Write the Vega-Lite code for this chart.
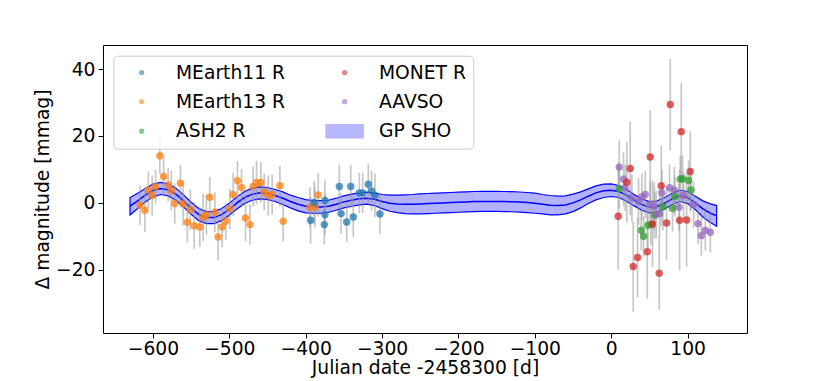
{
  "$schema": "https://vega.github.io/schema/vega-lite/v6.json",
  "width": 644,
  "height": 288,
  "autosize": {"type": "none"},
  "padding": {"left": 103, "top": 45, "right": 83, "bottom": 48},
  "config": {
    "font": "DejaVu Sans",
    "view": {"stroke": "black", "strokeWidth": 1},
    "axis": {
      "grid": false, "domain": false,
      "labelFont": "DejaVu Sans", "labelFontSize": 18.7, "labelColor": "black",
      "titleFont": "DejaVu Sans", "titleFontSize": 18.7, "titleFontWeight": "normal", "titleColor": "black",
      "tickColor": "black", "tickSize": 5, "tickWidth": 1
    }
  },
  "datasets": {
    "gp": [
      {"t": -630, "m": -1.0, "lo": -3.6, "hi": 1.6},
      {"t": -620, "m": 0.6, "lo": -1.7, "hi": 2.9},
      {"t": -610, "m": 2.3, "lo": 0.3, "hi": 4.3},
      {"t": -600, "m": 3.7, "lo": 1.8, "hi": 5.6},
      {"t": -590, "m": 4.3, "lo": 2.5, "hi": 6.1},
      {"t": -580, "m": 3.9, "lo": 2.1, "hi": 5.7},
      {"t": -570, "m": 2.6, "lo": 0.8, "hi": 4.4},
      {"t": -560, "m": 0.6, "lo": -1.2, "hi": 2.4},
      {"t": -550, "m": -1.6, "lo": -3.4, "hi": 0.2},
      {"t": -540, "m": -3.5, "lo": -5.3, "hi": -1.7},
      {"t": -530, "m": -4.4, "lo": -6.2, "hi": -2.6},
      {"t": -520, "m": -4.4, "lo": -6.2, "hi": -2.6},
      {"t": -510, "m": -3.5, "lo": -5.3, "hi": -1.7},
      {"t": -500, "m": -1.9, "lo": -3.7, "hi": -0.1},
      {"t": -490, "m": 0.0, "lo": -1.8, "hi": 1.8},
      {"t": -480, "m": 1.6, "lo": -0.2, "hi": 3.4},
      {"t": -470, "m": 2.6, "lo": 0.8, "hi": 4.4},
      {"t": -460, "m": 3.0, "lo": 1.2, "hi": 4.8},
      {"t": -450, "m": 2.8, "lo": 1.0, "hi": 4.6},
      {"t": -440, "m": 2.2, "lo": 0.4, "hi": 4.0},
      {"t": -430, "m": 1.4, "lo": -0.5, "hi": 3.3},
      {"t": -420, "m": 0.4, "lo": -1.5, "hi": 2.3},
      {"t": -410, "m": -0.4, "lo": -2.4, "hi": 1.6},
      {"t": -400, "m": -1.0, "lo": -3.0, "hi": 1.0},
      {"t": -390, "m": -1.2, "lo": -3.1, "hi": 0.7},
      {"t": -380, "m": -1.2, "lo": -3.1, "hi": 0.7},
      {"t": -370, "m": -1.0, "lo": -2.8, "hi": 0.8},
      {"t": -360, "m": -0.4, "lo": -2.2, "hi": 1.4},
      {"t": -350, "m": 0.3, "lo": -1.5, "hi": 2.1},
      {"t": -340, "m": 0.8, "lo": -1.0, "hi": 2.6},
      {"t": -330, "m": 1.2, "lo": -0.6, "hi": 3.0},
      {"t": -320, "m": 1.4, "lo": -0.4, "hi": 3.2},
      {"t": -310, "m": 1.1, "lo": -0.8, "hi": 3.0},
      {"t": -300, "m": 0.4, "lo": -1.7, "hi": 2.5},
      {"t": -290, "m": -0.1, "lo": -2.5, "hi": 2.3},
      {"t": -280, "m": -0.3, "lo": -2.9, "hi": 2.3},
      {"t": -270, "m": -0.4, "lo": -3.2, "hi": 2.4},
      {"t": -260, "m": -0.4, "lo": -3.3, "hi": 2.5},
      {"t": -250, "m": -0.3, "lo": -3.3, "hi": 2.7},
      {"t": -240, "m": -0.2, "lo": -3.2, "hi": 2.8},
      {"t": -230, "m": -0.1, "lo": -3.1, "hi": 2.9},
      {"t": -220, "m": 0.0, "lo": -3.0, "hi": 3.0},
      {"t": -210, "m": 0.1, "lo": -2.9, "hi": 3.1},
      {"t": -200, "m": 0.2, "lo": -2.8, "hi": 3.2},
      {"t": -190, "m": 0.3, "lo": -2.7, "hi": 3.3},
      {"t": -180, "m": 0.4, "lo": -2.6, "hi": 3.4},
      {"t": -170, "m": 0.45, "lo": -2.55, "hi": 3.45},
      {"t": -160, "m": 0.45, "lo": -2.55, "hi": 3.45},
      {"t": -150, "m": 0.45, "lo": -2.55, "hi": 3.45},
      {"t": -140, "m": 0.4, "lo": -2.6, "hi": 3.4},
      {"t": -130, "m": 0.35, "lo": -2.65, "hi": 3.35},
      {"t": -120, "m": 0.25, "lo": -2.75, "hi": 3.25},
      {"t": -110, "m": 0.1, "lo": -2.9, "hi": 3.1},
      {"t": -100, "m": -0.1, "lo": -3.1, "hi": 2.9},
      {"t": -90, "m": -0.4, "lo": -3.3, "hi": 2.5},
      {"t": -80, "m": -0.7, "lo": -3.6, "hi": 2.2},
      {"t": -70, "m": -0.8, "lo": -3.6, "hi": 2.0},
      {"t": -60, "m": -0.6, "lo": -3.3, "hi": 2.1},
      {"t": -50, "m": 0.0, "lo": -2.6, "hi": 2.6},
      {"t": -40, "m": 0.9, "lo": -1.5, "hi": 3.3},
      {"t": -30, "m": 2.0, "lo": -0.2, "hi": 4.2},
      {"t": -20, "m": 3.0, "lo": 0.9, "hi": 5.1},
      {"t": -10, "m": 3.6, "lo": 1.6, "hi": 5.6},
      {"t": 0, "m": 3.8, "lo": 1.9, "hi": 5.7},
      {"t": 10, "m": 3.4, "lo": 1.6, "hi": 5.2},
      {"t": 20, "m": 2.3, "lo": 0.5, "hi": 4.1},
      {"t": 30, "m": 0.8, "lo": -0.9, "hi": 2.5},
      {"t": 40, "m": -0.5, "lo": -2.2, "hi": 1.2},
      {"t": 50, "m": -1.3, "lo": -3.0, "hi": 0.4},
      {"t": 60, "m": -1.1, "lo": -2.8, "hi": 0.6},
      {"t": 70, "m": -0.1, "lo": -1.8, "hi": 1.6},
      {"t": 80, "m": 1.2, "lo": -0.5, "hi": 2.9},
      {"t": 90, "m": 2.1, "lo": 0.4, "hi": 3.8},
      {"t": 100, "m": 1.6, "lo": -0.2, "hi": 3.4},
      {"t": 110, "m": 0.0, "lo": -2.0, "hi": 2.0},
      {"t": 120, "m": -1.8, "lo": -4.2, "hi": 0.6},
      {"t": 130, "m": -3.1, "lo": -5.9, "hi": -0.3},
      {"t": 138, "m": -3.9, "lo": -7.0, "hi": -0.8}
    ],
    "obs": [
      {"s": "MEarth13 R", "x": -617, "y": -0.7, "e": 6},
      {"s": "MEarth13 R", "x": -610.5, "y": -2.2, "e": 6.5},
      {"s": "MEarth13 R", "x": -606, "y": 3.9, "e": 5.5},
      {"s": "MEarth13 R", "x": -601, "y": 2.2, "e": 6},
      {"s": "MEarth13 R", "x": -596.6, "y": 4.8, "e": 5},
      {"s": "MEarth13 R", "x": -591, "y": 14.1, "e": 5.5},
      {"s": "MEarth13 R", "x": -586, "y": 7.9, "e": 6},
      {"s": "MEarth13 R", "x": -580, "y": 5.4, "e": 5},
      {"s": "MEarth13 R", "x": -576, "y": 3.7, "e": 6},
      {"s": "MEarth13 R", "x": -571.5, "y": -0.2, "e": 6},
      {"s": "MEarth13 R", "x": -564, "y": 5.9, "e": 5.5},
      {"s": "MEarth13 R", "x": -560.5, "y": -0.3, "e": 6.5},
      {"s": "MEarth13 R", "x": -555, "y": -5.8, "e": 6},
      {"s": "MEarth13 R", "x": -551, "y": -2.0, "e": 6},
      {"s": "MEarth13 R", "x": -546, "y": -6.8, "e": 7},
      {"s": "MEarth13 R", "x": -538.7, "y": -7.2, "e": 6},
      {"s": "MEarth13 R", "x": -534.3, "y": -4.3, "e": 7},
      {"s": "MEarth13 R", "x": -530, "y": -3.6, "e": 6},
      {"s": "MEarth13 R", "x": -525.6, "y": 1.7, "e": 6},
      {"s": "MEarth13 R", "x": -519, "y": -2.8, "e": 6},
      {"s": "MEarth13 R", "x": -514.7, "y": -10.2, "e": 7},
      {"s": "MEarth13 R", "x": -509.4, "y": -7.2, "e": 6},
      {"s": "MEarth13 R", "x": -504.6, "y": -5.5, "e": 5.5},
      {"s": "MEarth13 R", "x": -499.3, "y": -1.8, "e": 6},
      {"s": "MEarth13 R", "x": -495, "y": 2.5, "e": 6.5},
      {"s": "MEarth13 R", "x": -489.3, "y": 6.6, "e": 6},
      {"s": "MEarth13 R", "x": -484, "y": 4.6, "e": 5.5},
      {"s": "MEarth13 R", "x": -478.8, "y": -4.5, "e": 7},
      {"s": "MEarth13 R", "x": -473, "y": -6.5, "e": 6},
      {"s": "MEarth13 R", "x": -468.8, "y": 4.9, "e": 6},
      {"s": "MEarth13 R", "x": -464.4, "y": 6.1, "e": 6.5},
      {"s": "MEarth13 R", "x": -458.7, "y": 6.1, "e": 6},
      {"s": "MEarth13 R", "x": -454.4, "y": 3.3, "e": 5.5},
      {"s": "MEarth13 R", "x": -449, "y": 2.2, "e": 6},
      {"s": "MEarth13 R", "x": -443.9, "y": 2.5, "e": 6},
      {"s": "MEarth13 R", "x": -433.8, "y": 5.1, "e": 6},
      {"s": "MEarth13 R", "x": -429.5, "y": -5.5, "e": 6},
      {"s": "MEarth13 R", "x": -394.5, "y": -1.3, "e": 6},
      {"s": "MEarth13 R", "x": -388, "y": -1.3, "e": 6},
      {"s": "MEarth13 R", "x": -383.6, "y": 2.4, "e": 6.5},
      {"s": "MEarth11 R", "x": -393.6, "y": -5.2, "e": 7},
      {"s": "MEarth11 R", "x": -388.8, "y": 0.15, "e": 6.5},
      {"s": "MEarth11 R", "x": -374.8, "y": 0.7, "e": 6},
      {"s": "MEarth11 R", "x": -374.8, "y": -3.5, "e": 6},
      {"s": "MEarth11 R", "x": -375.7, "y": -6.5, "e": 6},
      {"s": "MEarth11 R", "x": -356, "y": 4.9, "e": 6.5},
      {"s": "MEarth11 R", "x": -353.7, "y": -3.2, "e": 6},
      {"s": "MEarth11 R", "x": -346.3, "y": -5.7, "e": 6},
      {"s": "MEarth11 R", "x": -341, "y": 4.9, "e": 6.5},
      {"s": "MEarth11 R", "x": -337.7, "y": -4.2, "e": 6},
      {"s": "MEarth11 R", "x": -329.8, "y": 3.0, "e": 6},
      {"s": "MEarth11 R", "x": -325.4, "y": 3.0, "e": 6},
      {"s": "MEarth11 R", "x": -318, "y": 5.6, "e": 6},
      {"s": "MEarth11 R", "x": -313.7, "y": 3.6, "e": 6},
      {"s": "MEarth11 R", "x": -309.4, "y": 2.3, "e": 6.5},
      {"s": "MEarth11 R", "x": -302.8, "y": -3.3, "e": 6},
      {"s": "ASH2 R", "x": 10.5, "y": 4.2, "e": 6},
      {"s": "ASH2 R", "x": 90.4, "y": 7.1, "e": 7},
      {"s": "ASH2 R", "x": 93.4, "y": 7.2, "e": 7},
      {"s": "ASH2 R", "x": 101.3, "y": 6.7, "e": 6},
      {"s": "ASH2 R", "x": 104.4, "y": 3.9, "e": 6},
      {"s": "ASH2 R", "x": 83.4, "y": 1.9, "e": 6},
      {"s": "ASH2 R", "x": 80.3, "y": -1.6, "e": 7},
      {"s": "ASH2 R", "x": 67.7, "y": -1.2, "e": 7},
      {"s": "ASH2 R", "x": 56.7, "y": -3.6, "e": 7},
      {"s": "ASH2 R", "x": 48.1, "y": -6.7, "e": 7},
      {"s": "ASH2 R", "x": 52, "y": -6.5, "e": 6},
      {"s": "ASH2 R", "x": 39.3, "y": -8.2, "e": 6},
      {"s": "ASH2 R", "x": 42.4, "y": -10.0, "e": 6},
      {"s": "AAVSO", "x": 10.5, "y": 10.7, "e": 8},
      {"s": "AAVSO", "x": 16.1, "y": 7.1, "e": 8},
      {"s": "AAVSO", "x": 18.3, "y": 4.5, "e": 7},
      {"s": "AAVSO", "x": 27.1, "y": 1.5, "e": 7},
      {"s": "AAVSO", "x": 35.8, "y": 0.5, "e": 7},
      {"s": "AAVSO", "x": 40.2, "y": 1.8, "e": 7},
      {"s": "AAVSO", "x": 44.6, "y": 2.5, "e": 7},
      {"s": "AAVSO", "x": 51.1, "y": -0.5, "e": 7},
      {"s": "AAVSO", "x": 56.4, "y": -1.0, "e": 7},
      {"s": "AAVSO", "x": 59, "y": -3.5, "e": 7},
      {"s": "AAVSO", "x": 63.3, "y": -3.2, "e": 7},
      {"s": "AAVSO", "x": 66.4, "y": 3.0, "e": 7},
      {"s": "AAVSO", "x": 76.4, "y": 4.5, "e": 7},
      {"s": "AAVSO", "x": 82.6, "y": 3.8, "e": 7},
      {"s": "AAVSO", "x": 88.7, "y": -1.3, "e": 7},
      {"s": "AAVSO", "x": 94.8, "y": 2.2, "e": 7},
      {"s": "AAVSO", "x": 107.9, "y": -0.5, "e": 7},
      {"s": "AAVSO", "x": 113.7, "y": -6.2, "e": 6},
      {"s": "AAVSO", "x": 118, "y": -9.8, "e": 6},
      {"s": "AAVSO", "x": 123.2, "y": -8.2, "e": 6},
      {"s": "AAVSO", "x": 129.8, "y": -8.8, "e": 6},
      {"s": "MONET R", "x": 77.3, "y": 29.4, "e": 13.7},
      {"s": "MONET R", "x": 91.7, "y": 21.3, "e": 14.5},
      {"s": "MONET R", "x": 51.1, "y": 13.7, "e": 14},
      {"s": "MONET R", "x": 24.9, "y": 10.3, "e": 14},
      {"s": "MONET R", "x": 20.5, "y": 6.2, "e": 12},
      {"s": "MONET R", "x": 103.5, "y": 9.4, "e": 12},
      {"s": "MONET R", "x": 65.5, "y": 5.1, "e": 12},
      {"s": "MONET R", "x": 9.2, "y": -4.0, "e": 16},
      {"s": "MONET R", "x": 54.1, "y": -6.3, "e": 13},
      {"s": "MONET R", "x": 72.5, "y": -6.0, "e": 11},
      {"s": "MONET R", "x": 89.5, "y": -5.2, "e": 15},
      {"s": "MONET R", "x": 98.7, "y": -5.1, "e": 14},
      {"s": "MONET R", "x": 47.2, "y": -14.6, "e": 14},
      {"s": "MONET R", "x": 34.5, "y": -16.3, "e": 12},
      {"s": "MONET R", "x": 28.8, "y": -19.0, "e": 13.5},
      {"s": "MONET R", "x": 62.9, "y": -21.0, "e": 11}
    ]
  },
  "layer": [
    {
      "data": {"name": "gp"},
      "mark": {"type": "area", "color": "#0000ff", "fillOpacity": 0.3, "stroke": "#0000ff", "strokeWidth": 1.2, "strokeOpacity": 1},
      "encoding": {
        "x": {"field": "t", "type": "quantitative",
              "scale": {"domain": [-665.4, 177.8], "nice": false, "zero": false},
              "axis": {"values": [-600, -500, -400, -300, -200, -100, 0, 100], "title": "Julian date -2458300 [d]", "labelPadding": 1, "titlePadding": 1}},
        "y": {"field": "lo", "type": "quantitative",
              "scale": {"domain": [-38.9, 47.2], "nice": false, "zero": false},
              "axis": {"values": [-20, 0, 20, 40], "title": "Δ magnitude [mmag]", "labelPadding": 3, "titlePadding": 3}},
        "y2": {"field": "hi"}
      }
    },
    {
      "data": {"name": "gp"},
      "mark": {"type": "line", "color": "#0000ff", "strokeWidth": 1.5},
      "encoding": {
        "x": {"field": "t", "type": "quantitative", "title": "Julian date -2458300 [d]"},
        "y": {"field": "m", "type": "quantitative", "title": "Δ magnitude [mmag]"}
      }
    },
    {
      "data": {"name": "obs"},
      "mark": {"type": "errorbar", "color": "#999999", "opacity": 0.55, "thickness": 1.7},
      "encoding": {
        "x": {"field": "x", "type": "quantitative", "title": "Julian date -2458300 [d]"},
        "y": {"field": "y", "type": "quantitative", "title": "Δ magnitude [mmag]"},
        "yError": {"field": "e"}
      }
    },
    {
      "data": {"name": "obs"},
      "mark": {"type": "point", "filled": true, "size": 55, "opacity": 0.75},
      "encoding": {
        "x": {"field": "x", "type": "quantitative", "title": "Julian date -2458300 [d]"},
        "y": {"field": "y", "type": "quantitative", "title": "Δ magnitude [mmag]"},
        "color": {"field": "s", "type": "nominal",
          "scale": {"domain": ["MEarth11 R", "MEarth13 R", "ASH2 R", "MONET R", "AAVSO", "GP SHO"],
                    "range": ["#1f77b4", "#ff7f0e", "#2ca02c", "#d62728", "#9467bd", "#7f7fff"]},
          "legend": {
            "title": " ", "titleOrient": "left", "titleFontSize": 1, "titlePadding": 12,
            "orient": "none", "legendX": 10.3, "legendY": 10.7,
            "columns": 2, "columnPadding": 40, "rowPadding": 9.6,
            "labelFont": "DejaVu Sans", "labelFontSize": 18.7, "labelColor": "black", "labelOffset": 25, "labelLimit": 300,
            "symbolSize": 28, "symbolOpacity": 0.75, "symbolStrokeWidth": 0,
            "padding": 7, "strokeColor": "#cccccc", "fillColor": "rgba(255,255,255,0.8)", "cornerRadius": 4
          }},
        "shape": {"field": "s", "type": "nominal",
          "scale": {"domain": ["MEarth11 R", "MEarth13 R", "ASH2 R", "MONET R", "AAVSO", "GP SHO"],
                    "range": ["circle", "circle", "circle", "circle", "circle", "M-7.31,-2.7H7.31V2.7H-7.31Z"]}}
      }
    }
  ]
}
